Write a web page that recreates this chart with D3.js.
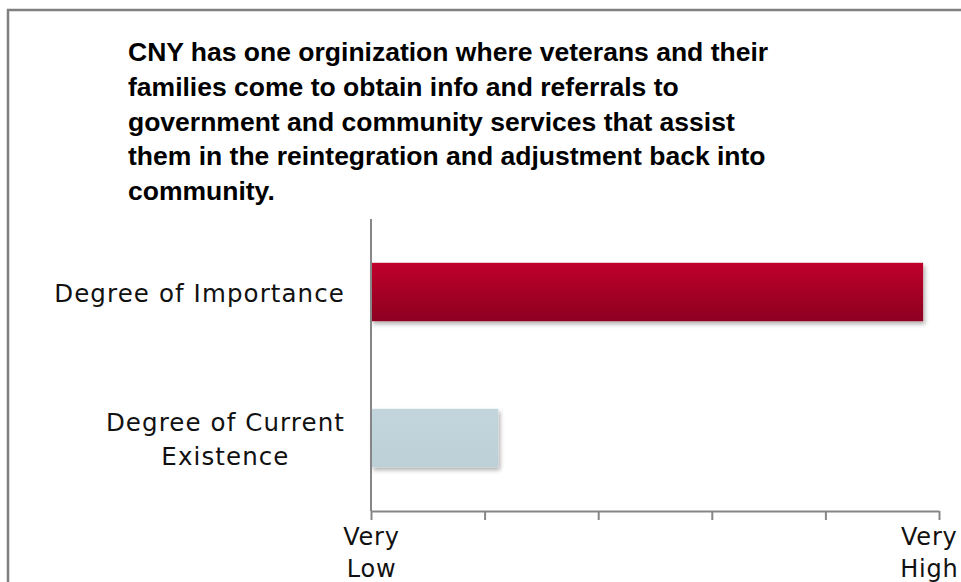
<!DOCTYPE html>
<html>
<head>
<meta charset="utf-8">
<script src="https://cdn.jsdelivr.net/npm/d3@7/dist/d3.min.js"></script>
<style>
  html, body { margin: 0; padding: 0; background: #ffffff; }
  svg { display: block; }
</style>
</head>
<body>
<svg id="chart" width="961" height="582"></svg>
<script>
// Survey item: rated importance vs. current existence (scale Very Low .. Very High)
const titleLines = [
  "CNY has one orginization where veterans and their",
  "families come to obtain info and referrals to",
  "government and community services that assist",
  "them in the reintegration and adjustment back into",
  "community."
];
const categories = ["Degree of Importance", "Degree of Current Existence"];
const values = [4.86, 1.12];
const tickValues = [0, 1, 2, 3, 4, 5];
const tickLabels = ["Very Low", "", "", "", "", "Very High"];
const barColors = ["importance", "existence"];

const W = 961, H = 582;
const svg = d3.select("#chart");
const labelFont = "'DejaVu Sans', 'Century Gothic', sans-serif";

// Gradients and shadow
const defs = svg.append("defs");
const gRed = defs.append("linearGradient").attr("id", "importance")
  .attr("x1", 0).attr("y1", 0).attr("x2", 0).attr("y2", 1);
gRed.append("stop").attr("offset", "0%").attr("stop-color", "#c0002c");
gRed.append("stop").attr("offset", "100%").attr("stop-color", "#8c0020");
const gBlue = defs.append("linearGradient").attr("id", "existence")
  .attr("x1", 0).attr("y1", 0).attr("x2", 0).attr("y2", 1);
gBlue.append("stop").attr("offset", "0%").attr("stop-color", "#c3d5dc");
gBlue.append("stop").attr("offset", "100%").attr("stop-color", "#bdd0d8");
const shadow = defs.append("filter").attr("id", "shadow")
  .attr("x", "-5%").attr("y", "-20%").attr("width", "115%").attr("height", "150%");
shadow.append("feDropShadow").attr("dx", 2).attr("dy", 3).attr("stdDeviation", 2)
  .attr("flood-color", "#000").attr("flood-opacity", 0.3);

// Outer frame
svg.append("path")
  .attr("d", `M8,${H} V10 H${W}`)
  .attr("fill", "none").attr("stroke", "#808080").attr("stroke-width", 2.5);

// Title
const title = svg.append("text")
  .attr("font-family", "'Liberation Sans', Arial, sans-serif")
  .attr("font-weight", "bold").attr("font-size", 26.5).attr("fill", "#000");
titleLines.forEach((line, i) => {
  title.append("tspan").attr("x", 128).attr("y", 61 + i * 34.8).text(line);
});

// Scales
const x = d3.scaleLinear().domain([0, 5]).range([371, 939]);
const y = d3.scaleBand().domain(categories).range([219, 511])
  .paddingInner(0.6).paddingOuter(0.3);

// Bars
svg.append("g").selectAll("rect")
  .data(categories)
  .join("rect")
  .attr("x", x(0))
  .attr("y", d => y(d))
  .attr("width", (d, i) => x(values[i]) - x(0))
  .attr("height", y.bandwidth())
  .attr("fill", (d, i) => `url(#${barColors[i]})`)
  .attr("filter", "url(#shadow)");

// Vertical category axis line
svg.append("line")
  .attr("x1", x(0)).attr("x2", x(0))
  .attr("y1", 219).attr("y2", 511)
  .attr("stroke", "#868686").attr("stroke-width", 2);

// Horizontal value axis
const xAxis = d3.axisBottom(x).tickValues(tickValues)
  .tickSize(9).tickSizeOuter(0).tickFormat((d, i) => tickLabels[i]);
const gx = svg.append("g").attr("transform", "translate(0,511)").call(xAxis);
gx.select(".domain").attr("stroke", "#868686").attr("stroke-width", 2);
gx.selectAll(".tick line").attr("stroke", "#868686").attr("stroke-width", 2);
gx.selectAll(".tick text").each(function(d, i) {
  const t = d3.select(this);
  const words = tickLabels[i].split(" ").filter(Boolean);
  t.text(null)
    .attr("y", 0).attr("dy", null)
    .attr("font-family", labelFont).attr("font-size", 24)
    .attr("letter-spacing", 0.8)
    .attr("fill", "#111").attr("text-anchor", "middle");
  words.forEach((w, k) => {
    t.append("tspan").attr("x", 0).attr("y", 34 + k * 32).text(w);
  });
  // keep edge labels inside the page
  if (words.length) {
    const bb = this.getBBox();
    const abs = x(d);
    let shift = 0;
    if (abs + bb.x + bb.width > W - 3) shift = (W - 3) - (abs + bb.x + bb.width);
    t.selectAll("tspan").attr("x", shift);
  }
});

// Category labels, wrapped and right-aligned as a block
const wrapWidth = 310;
const catG = svg.append("g")
  .attr("font-family", labelFont).attr("font-size", 24.5)
  .attr("letter-spacing", 1.1).attr("fill", "#111");
categories.forEach(cat => {
  const words = cat.split(" ");
  const lines = [];
  let cur = "";
  const probe = catG.append("text");
  words.forEach(w => {
    const test = cur ? cur + " " + w : w;
    probe.text(test);
    if (probe.node().getComputedTextLength() > wrapWidth && cur) {
      lines.push(cur); cur = w;
    } else cur = test;
  });
  lines.push(cur);
  let maxW = 0;
  lines.forEach(l => { probe.text(l); maxW = Math.max(maxW, probe.node().getComputedTextLength()); });
  probe.remove();
  const cx = 345 - maxW / 2;
  const cy = y(cat) + y.bandwidth() / 2;
  const t = catG.append("text").attr("text-anchor", "middle");
  lines.forEach((l, k) => {
    t.append("tspan").attr("x", cx)
      .attr("y", cy + 10 + (k - (lines.length - 1) / 2) * 34).text(l);
  });
});
</script>
</body>
</html>
